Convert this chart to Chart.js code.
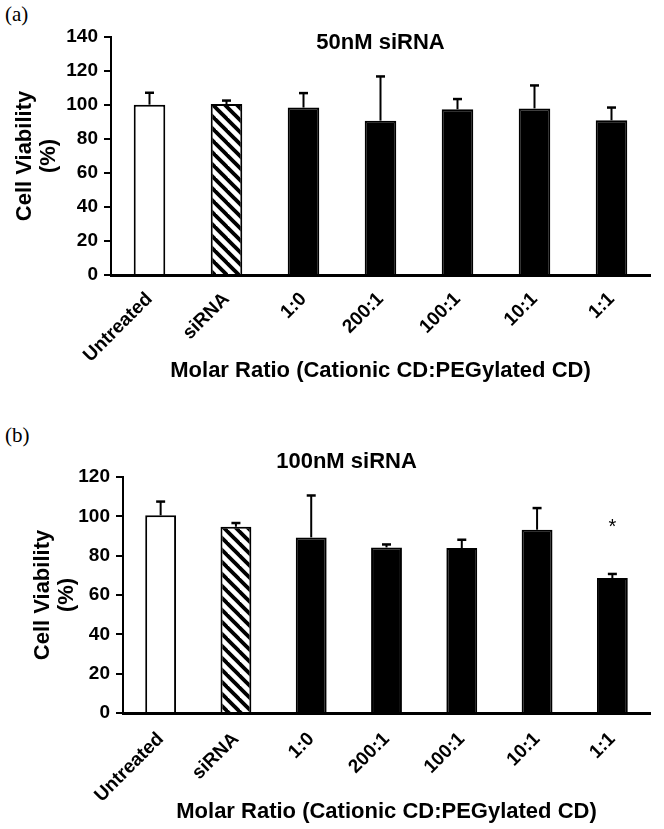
<!DOCTYPE html>
<html>
<head>
<meta charset="utf-8">
<script src="https://cdn.jsdelivr.net/npm/chart.js@4.4.1/dist/chart.umd.min.js"></script>
<style>
  body { margin: 0; background: #fff; width: 664px; height: 829px; position: relative; overflow: hidden; }
  .panel { position: absolute; left: 0; }
  .tag { position: absolute; left: 5px; font: 21px "Liberation Serif", "Times New Roman", serif; line-height: 1; color: #000; }
</style>
</head>
<body>
<div class="tag" style="top:4px">(a)</div>
<canvas id="chartA" class="panel" style="top:0" width="664" height="400"></canvas>
<div class="tag" style="top:425px">(b)</div>
<canvas id="chartB" class="panel" style="top:400px" width="664" height="429"></canvas>
<script>
const groups = ["Untreated", "siRNA", "1:0", "200:1", "100:1", "10:1", "1:1"];

// 50nM siRNA
const viability50 = [100.2, 100.6, 98.5, 90.8, 97.5, 98, 91];
const error50 = [7, 2, 8.5, 26, 6, 13.5, 7.5];

// 100nM siRNA
const viability100 = [100.5, 94.7, 89.3, 84.2, 83.9, 93.2, 68.6];
const error100 = [7, 1.9, 21.3, 1.5, 4.2, 11, 2.1];
const signif100 = ["", "", "", "", "", "", "*"];

const yTicks50 = { max: 140, step: 20 };
const yTicks100 = { max: 120, step: 20 };

const FONT = "'Liberation Sans', Arial, sans-serif";

function hatch() {
  const c = document.createElement("canvas");
  c.width = 12; c.height = 12;
  const g = c.getContext("2d");
  g.fillStyle = "#fff";
  g.fillRect(0, 0, 12, 12);
  g.strokeStyle = "#000";
  g.lineWidth = 3.8;
  for (const k of [-12, 0, 12]) {
    g.beginPath();
    g.moveTo(k - 2, -2);
    g.lineTo(k + 14, 14);
    g.stroke();
  }
  return g.createPattern(c, "repeat");
}

const fills = ["#fff", hatch(), "#000", "#000", "#000", "#000", "#000"];

// upper error bars + significance marks
const errorBars = {
  id: "errorBars",
  afterDatasetsDraw(chart, args, opts) {
    const ctx = chart.ctx;
    const y = chart.scales.y;
    const meta = chart.getDatasetMeta(0);
    ctx.save();
    ctx.strokeStyle = "#000";
    meta.data.forEach((bar, i) => {
      const top = y.getPixelForValue(opts.values[i] + opts.errors[i]);
      ctx.lineWidth = 2;
      ctx.beginPath();
      ctx.moveTo(bar.x, bar.y);
      ctx.lineTo(bar.x, top);
      ctx.stroke();
      ctx.lineWidth = 2.5;
      ctx.beginPath();
      ctx.moveTo(bar.x - 4.5, top);
      ctx.lineTo(bar.x + 4.5, top);
      ctx.stroke();
      if (opts.marks && opts.marks[i]) {
        ctx.fillStyle = "#000";
        ctx.font = "20px " + FONT;
        ctx.textAlign = "center";
        ctx.textBaseline = "middle";
        ctx.fillText(opts.marks[i], bar.x, top - 46);
      }
    });
    ctx.restore();
  }
};

const panelTitle = {
  id: "panelTitle",
  afterDraw(chart, args, opts) {
    const ctx = chart.ctx;
    const a = chart.chartArea;
    ctx.save();
    ctx.fillStyle = "#000";
    ctx.font = "bold 22px " + FONT;
    ctx.textAlign = "center";
    ctx.textBaseline = "middle";
    ctx.fillText(opts.text, (a.left + a.right) / 2 + opts.dx, opts.y);
    ctx.restore();
  }
};

function makeChart(id, values, errors, marks, ticks, title, g) {
  return new Chart(document.getElementById(id), {
    type: "bar",
    data: {
      labels: groups,
      datasets: [{
        data: values,
        backgroundColor: fills,
        borderColor: "#000",
        borderWidth: 2,
        barPercentage: 0.41,
        categoryPercentage: 1
      }]
    },
    options: {
      responsive: false,
      animation: false,
      devicePixelRatio: 1,
      layout: { padding: { top: g.top, right: 14, left: 0, bottom: 0 } },
      plugins: {
        legend: { display: false },
        tooltip: { enabled: false },
        errorBars: { values: values, errors: errors, marks: marks },
        panelTitle: { text: title, dx: g.titleDx, y: g.titleY }
      },
      scales: {
        x: {
          afterFit: s => { s.height = g.xHeight; },
          grid: { display: false, drawTicks: false },
          border: { display: true, color: "#000", width: 3 },
          ticks: {
            autoSkip: false, maxRotation: 45, minRotation: 45,
            color: "#000", padding: g.xTickPad,
            font: { family: FONT, size: 19, weight: "bold" }
          },
          title: {
            display: true,
            text: "Molar Ratio (Cationic CD:PEGylated CD)",
            color: "#000",
            font: { family: FONT, size: 22, weight: "bold", lineHeight: 1.2 },
            padding: { top: 0, bottom: g.xTitlePad }
          }
        },
        y: {
          min: 0, max: ticks.max,
          afterFit: s => { s.width = g.yWidth; },
          grid: { display: true, drawOnChartArea: false, drawTicks: true, tickLength: 7, color: "#000", lineWidth: 2 },
          border: { display: true, color: "#000", width: 2 },
          ticks: {
            stepSize: ticks.step, color: "#000", padding: 6,
            font: { family: FONT, size: 19, weight: "bold" }
          },
          title: {
            display: true,
            text: ["Cell Viability", "(%)"],
            color: "#000",
            font: { family: FONT, size: 22, weight: "bold", lineHeight: 1.1 },
            padding: { top: g.yTitlePad, bottom: 0 }
          }
        }
      }
    },
    plugins: [errorBars, panelTitle]
  });
}

makeChart("chartA", viability50, error50, null, yTicks50, "50nM siRNA",
  { top: 37, yWidth: 111, xHeight: 125, xTickPad: 13, xTitlePad: 16, yTitlePad: 13, titleDx: 0, titleY: 43 });

makeChart("chartB", viability100, error100, signif100, yTicks100, "100nM siRNA",
  { top: 77, yWidth: 123, xHeight: 116, xTickPad: 15, xTitlePad: 4, yTitlePad: 31, titleDx: -40, titleY: 62 });
</script>
</body>
</html>
